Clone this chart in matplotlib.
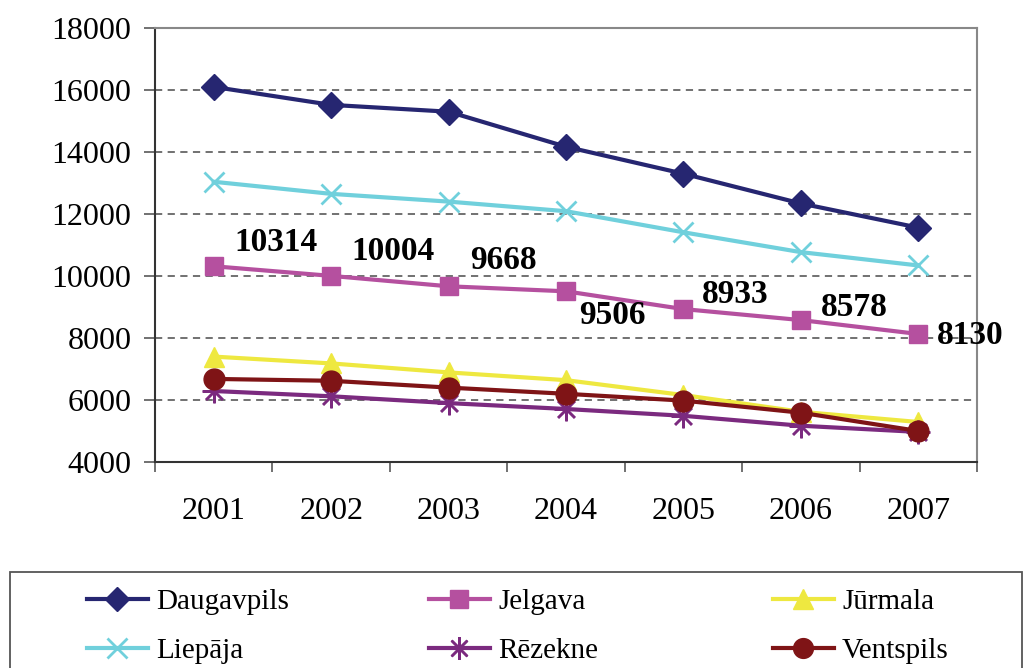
import matplotlib
matplotlib.use("Agg")
import matplotlib.pyplot as plt
from matplotlib.patches import Rectangle

plt.rcParams['font.family'] = ['Liberation Serif', 'DejaVu Serif']

# data
years = ['2001', '2002', '2003', '2004', '2005', '2006', '2007']
daugavpils = [16100, 15520, 15300, 14170, 13300, 12340, 11560]
jelgava = [10314, 10004, 9668, 9506, 8933, 8578, 8130]
jurmala = [7400, 7180, 6890, 6640, 6160, 5620, 5290]
liepaja = [13040, 12650, 12400, 12090, 11410, 10770, 10340]
rezekne = [6290, 6120, 5900, 5710, 5490, 5170, 4970]
ventspils = [6680, 6620, 6400, 6200, 5980, 5590, 5000]
yticks = [4000, 6000, 8000, 10000, 12000, 14000, 16000, 18000]

# label offsets (pixels) for the Jelgava values
lab_off = [(62, 24), (62, 24), (55, 26), (46, -24), (52, 15), (53, 13), (52, -2)]

series = [
    ('Daugavpils', daugavpils, '#262671', 'D', 13, 1),
    ('Jelgava', jelgava, '#B5509F', 's', 13, 1),
    ('Jūrmala', jurmala, '#EEE840', '^', 15, 1),
    ('Liepāja', liepaja, '#70D0DC', 'x', 15, 2),
    ('Rēzekne', rezekne, '#7B2A7F', (8, 2, 0), 17, 1.8),
    ('Ventspils', ventspils, '#7F1416', 'o', 15, 1),
]

fig = plt.figure(figsize=(10.27, 6.68), dpi=100)
ax = fig.add_axes([155/1027, 1-462/668, 822/1027, 434/668])

x = list(range(len(years)))
handles = {}
draw_order = ['Daugavpils', 'Liepāja', 'Jelgava', 'Jūrmala', 'Rēzekne', 'Ventspils']
for name in draw_order:
    s = [t for t in series if t[0] == name][0]
    _, vals, col, mk, ms, mew = s
    h, = ax.plot(x, vals, color=col, lw=3, marker=mk, markersize=ms,
                 markeredgewidth=mew, markeredgecolor=col, markerfacecolor=col,
                 solid_joinstyle='round')
    handles[name] = h

for i, v in enumerate(jelgava):
    dx, dy = lab_off[i]
    ax.annotate(str(v), (i, v), xytext=(dx, dy), textcoords='offset pixels',
                ha='center', va='center', fontsize=24, fontweight='bold')

ax.set_xlim(-0.5, len(years) - 0.5)
ax.set_ylim(4000, 18000)
ax.set_yticks(yticks)
ax.set_yticklabels([str(t) for t in yticks])
ax.yaxis.grid(True, linestyle=(0, (4, 3)), color='#666666', lw=1.3)
ax.set_axisbelow(True)

ax.set_xticks([i - 0.5 for i in range(len(years) + 1)])
ax.set_xticklabels([])
ax.set_xticks(x, minor=True)
ax.set_xticklabels(years, minor=True)
ax.tick_params(axis='x', which='major', length=7, width=1.3, color='#666666', direction='out')
ax.tick_params(axis='x', which='minor', length=0, pad=25, labelsize=23)
ax.tick_params(axis='y', length=8, width=1.3, color='#666666', pad=9, labelsize=23)

ax.spines['left'].set_color('#333333')
ax.spines['left'].set_linewidth(1.5)
ax.spines['bottom'].set_color('#333333')
ax.spines['bottom'].set_linewidth(1.5)
for side in ['right', 'top']:
    ax.spines[side].set_color('#888888')
    ax.spines[side].set_linewidth(1.5)

# legend box
fig.add_artist(Rectangle((10/1027, -0.05), 1012/1027, 0.05 + (668-572)/668,
                         transform=fig.transFigure, fill=False,
                         edgecolor='#555555', lw=1.3))

cols = [['Daugavpils', 'Liepāja'], ['Jelgava', 'Rēzekne'], ['Jūrmala', 'Ventspils']]
col_x = [72, 414, 758]
for cx, names in zip(col_x, cols):
    fig.legend([handles[n] for n in names], names, loc='upper left',
               bbox_to_anchor=(cx/1027, 1 - 574/668), frameon=False,
               fontsize=21, handlelength=2.1, handletextpad=0.28,
               labelspacing=0.78, borderpad=0, markerscale=0.95)

fig.savefig('out.png', dpi=100)
